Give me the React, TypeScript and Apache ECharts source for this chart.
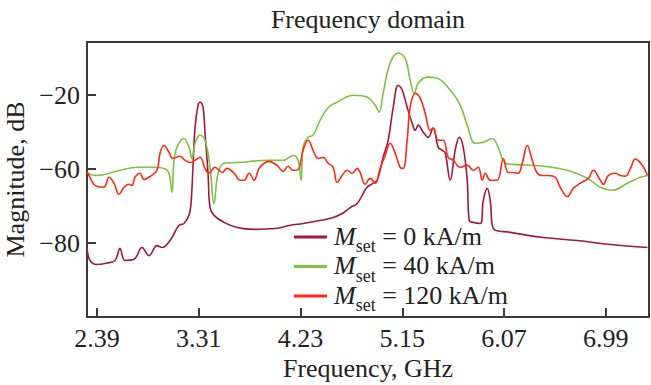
import React, { useEffect, useRef } from "react";
import * as echarts from "echarts";

// Frequency (GHz) and magnitude values (internal axis units)
const freq0 = [2.300,2.327,2.390,2.480,2.553,2.598,2.643,2.725,2.797,2.860,2.933,2.978,3.050,3.132,3.177,3.222,3.240,3.258,3.277,3.304,3.322,3.349,3.367,3.394,3.412,3.448,3.539,3.657,3.810,4.018,4.136,4.253,4.407,4.525,4.606,4.679,4.742,4.796,4.832,4.887,4.923,4.977,5.022,5.068,5.113,5.149,5.194,5.240,5.267,5.294,5.339,5.384,5.429,5.475,5.511,5.538,5.583,5.628,5.665,5.701,5.737,5.755,5.791,5.855,5.882,5.918,5.945,5.972,6.126,6.424,6.732,7.031,7.366];
const mag0 = [-61.1,-64.7,-65.8,-65.4,-64.7,-61.5,-64.7,-64.4,-61.2,-63.4,-60.7,-61.2,-59.3,-55.2,-54.7,-52.5,-49.3,-39.5,-28.7,-22.7,-21.9,-23.3,-30.3,-41.1,-50.4,-52.5,-54.4,-55.8,-56.3,-56.0,-55.2,-54.7,-53.9,-53.1,-52.0,-50.4,-49.3,-46.6,-44.9,-43.8,-43.0,-36.8,-32.2,-23.3,-17.3,-18.6,-23.3,-27.6,-29.5,-28.1,-30.0,-31.4,-28.9,-34.1,-34.9,-35.7,-43.0,-34.9,-31.4,-34.1,-43.0,-53.9,-54.4,-54.7,-48.5,-45.2,-48.5,-56.0,-57.1,-58.5,-59.3,-60.4,-61.2];

const freq40 = [2.300,2.390,2.598,2.752,2.906,2.996,3.041,3.068,3.096,3.177,3.222,3.249,3.277,3.322,3.367,3.412,3.448,3.485,3.539,3.657,3.955,4.073,4.163,4.208,4.235,4.253,4.299,4.344,4.407,4.480,4.561,4.706,4.832,4.905,4.941,4.977,5.040,5.113,5.176,5.221,5.258,5.294,5.375,5.466,5.583,5.674,5.737,5.809,5.882,5.963,6.017,6.081,6.153,6.424,6.642,6.823,6.940,7.049,7.185,7.302,7.366];
const mag40 = [-41.1,-41.7,-40.3,-39.5,-39.5,-39.8,-41.1,-46.3,-35.7,-31.7,-34.1,-37.1,-33.0,-30.8,-32.2,-39.5,-49.3,-41.1,-38.4,-38.2,-37.6,-37.6,-36.3,-37.6,-43.0,-34.1,-31.4,-30.8,-26.8,-23.3,-21.9,-20.0,-20.5,-22.7,-24.6,-19.5,-11.3,-8.6,-10.0,-15.9,-19.5,-16.7,-15.1,-15.4,-18.6,-22.7,-28.1,-33.0,-32.7,-31.7,-34.1,-38.4,-38.7,-39.2,-40.3,-42.5,-44.9,-45.7,-43.8,-42.2,-41.7];

const freq120 = [2.300,2.327,2.372,2.453,2.499,2.544,2.589,2.634,2.679,2.707,2.734,2.779,2.815,2.869,2.933,2.960,2.996,3.041,3.077,3.141,3.186,3.231,3.277,3.322,3.367,3.403,3.457,3.521,3.566,3.629,3.684,3.720,3.765,3.810,3.855,3.901,3.946,4.018,4.073,4.118,4.163,4.208,4.253,4.299,4.344,4.389,4.434,4.480,4.525,4.561,4.606,4.652,4.697,4.742,4.769,4.814,4.860,4.905,4.950,4.995,5.040,5.086,5.131,5.158,5.194,5.221,5.267,5.312,5.357,5.402,5.429,5.475,5.520,5.565,5.611,5.674,5.737,5.791,5.836,5.873,5.900,5.945,6.008,6.063,6.108,6.153,6.198,6.234,6.280,6.325,6.370,6.424,6.470,6.533,6.578,6.642,6.696,6.759,6.832,6.877,6.940,6.967,7.013,7.076,7.121,7.167,7.212,7.257,7.321,7.366];
const mag120 = [-40.6,-42.2,-44.4,-44.9,-42.2,-43.8,-46.8,-44.9,-44.1,-44.4,-42.2,-41.1,-42.8,-42.0,-40.3,-35.7,-33.6,-35.4,-37.1,-36.5,-37.6,-38.2,-37.6,-36.8,-39.8,-41.1,-39.5,-40.9,-39.8,-41.1,-43.0,-43.0,-41.1,-43.0,-39.8,-38.4,-37.9,-39.0,-40.6,-39.2,-40.3,-40.1,-34.9,-32.2,-34.9,-37.1,-36.8,-38.4,-39.5,-43.6,-41.7,-40.3,-41.1,-39.8,-40.9,-44.1,-42.5,-43.8,-39.8,-36.3,-33.0,-35.7,-39.5,-39.8,-32.2,-23.3,-19.5,-20.8,-24.9,-29.5,-28.9,-32.2,-32.2,-36.8,-37.6,-39.5,-38.9,-40.3,-39.5,-43.0,-41.1,-43.0,-43.0,-37.1,-40.9,-40.9,-41.1,-38.4,-33.6,-37.6,-41.1,-41.7,-41.7,-42.2,-44.9,-47.4,-45.2,-43.8,-42.5,-40.3,-43.0,-44.1,-41.7,-41.1,-41.7,-41.9,-39.8,-37.3,-39.0,-41.7];

const fieldValues = ["0", "40", "120"]; // kA/m
const seriesColors = ["#a3173f", "#7dc243", "#ff2a14"];

const xTicks = [2.39, 3.31, 4.23, 5.15, 6.07, 6.99];
const yTicks = [-20, -40, -60];
const yTickLabels = ["\u221220", "\u221260", "\u221280"];

const FONT = "'Liberation Serif', 'Times New Roman', serif";
const TXT = "#222";
const AX = "#3a3a3a";
const LEGEND_TOPS = [223, 252.5, 282];

export default function App() {
  const ref = useRef<HTMLDivElement>(null);
  useEffect(() => {
    if (!ref.current) return;
    const chart = echarts.init(ref.current, null, { renderer: "svg" });
    const pairs = (xs: number[], ys: number[]) => xs.map((x, i) => [x, ys[i]]);
    const datasets = [pairs(freq0, mag0), pairs(freq40, mag40), pairs(freq120, mag120)];
    const names = fieldValues.map((v) => `M_set = ${v} kA/m`);
    const rich = {
      m: { fontFamily: FONT, fontStyle: "italic", fontSize: 26, lineHeight: 28, verticalAlign: "top", color: TXT, padding: [0, 0, 0, 2] },
      s: { fontFamily: FONT, fontSize: 18, lineHeight: 28, verticalAlign: "top", padding: [14, 0, 0, 0], color: TXT },
      t: { fontFamily: FONT, fontSize: 26, lineHeight: 28, verticalAlign: "top", color: TXT },
    };
    chart.setOption({
      animation: false,
      backgroundColor: "#ffffff",
      graphic: [
        {
          type: "text",
          x: 368,
          y: 19,
          style: {
            text: "Frequency domain",
            font: `26px ${FONT}`,
            fill: TXT,
            align: "center",
            verticalAlign: "middle",
            textAlign: "center",
            textVerticalAlign: "middle",
          },
        },
      ],
      grid: {
        left: 87,
        right: 2,
        top: 42,
        bottom: 68,
        show: true,
        borderColor: AX,
        borderWidth: 2,
        backgroundColor: "transparent",
        containLabel: false,
        outerBoundsMode: "none",
      },
      legend: names.map((n, i) => ({
        orient: "vertical",
        left: 294,
        top: LEGEND_TOPS[i],
        padding: 0,
        itemGap: 0,
        itemWidth: 33,
        itemHeight: 3,
        icon: "rect",
        selectedMode: false,
        data: [{ name: n, itemStyle: { color: seriesColors[i] } }],
        formatter: (name: string) => {
          const rest = name.replace("M_set", "");
          return `{m|M}{s|set}{t|${rest}}`;
        },
        textStyle: { fontFamily: FONT, color: TXT, rich },
      })),
      xAxis: {
        type: "value",
        min: 2.3,
        max: 7.38,
        name: "Frequency, GHz",
        nameLocation: "middle",
        nameGap: 36,
        nameTextStyle: { fontFamily: FONT, fontSize: 26, color: TXT, lineHeight: 26 },
        axisLine: { show: false },
        splitLine: { show: false },
        axisTick: { show: true, inside: true, length: 9, customValues: xTicks, lineStyle: { color: AX, width: 2 } },
        axisLabel: {
          customValues: xTicks,
          formatter: (v: number) => v.toFixed(2),
          fontFamily: FONT,
          fontSize: 26,
          lineHeight: 26,
          color: TXT,
          margin: 8,
        },
      },
      yAxis: {
        type: "value",
        min: -80,
        max: -5.6,
        name: "Magnitude, dB",
        nameLocation: "middle",
        nameGap: 56,
        nameTextStyle: { fontFamily: FONT, fontSize: 26, color: TXT, lineHeight: 26 },
        axisLine: { show: false },
        splitLine: { show: false },
        axisTick: { show: true, inside: true, length: 9, customValues: yTicks, lineStyle: { color: AX, width: 2 } },
        axisLabel: {
          customValues: yTicks,
          formatter: (v: number) => {
            const i = yTicks.findIndex((t) => Math.abs(t - v) < 1e-6);
            return i >= 0 ? yTickLabels[i] : "";
          },
          fontFamily: FONT,
          fontSize: 26,
          color: TXT,
          margin: 7,
        },
      },
      series: datasets.map((d, i) => ({
        name: names[i],
        type: "line",
        data: d,
        showSymbol: false,
        smooth: 0.4,
        z: 2 + i,
        lineStyle: { color: seriesColors[i], width: 1.6 },
        itemStyle: { color: seriesColors[i] },
      })),
    });
    return () => chart.dispose();
  }, []);
  return (
    <div
      ref={ref}
      style={{ position: "fixed", left: 0, top: 0, width: 651, height: 385, background: "#fff" }}
    />
  );
}
